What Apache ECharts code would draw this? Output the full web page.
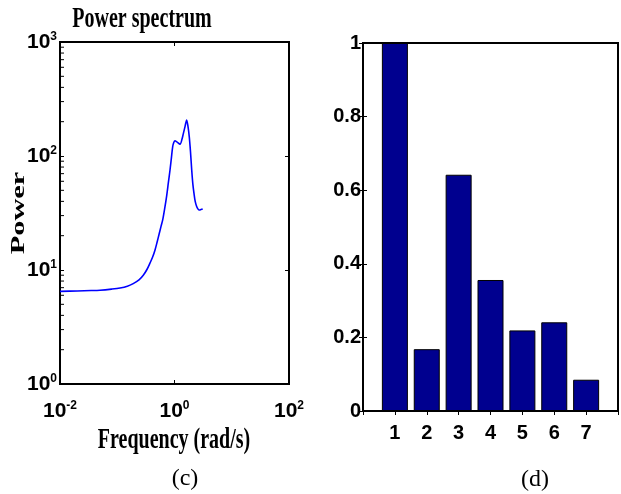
<!DOCTYPE html>
<html><head><meta charset="utf-8">
<script src="https://cdn.jsdelivr.net/npm/echarts@6/dist/echarts.min.js"></script>
<style>html,body{margin:0;padding:0;background:#fff}#c{width:621px;height:494px}</style>
</head><body><div id="c"></div>
<script>
// ---- data ----
const freq  = [0.01, 0.02, 0.035, 0.05, 0.08, 0.112, 0.15, 0.19, 0.24, 0.285, 0.33, 0.373, 0.415, 0.457, 0.5, 0.543, 0.58, 0.622, 0.67, 0.731, 0.78, 0.834, 0.88, 0.93, 0.975, 1.02, 1.1, 1.25, 1.35, 1.43, 1.53, 1.63, 1.72, 1.81, 1.9, 2.0, 2.09, 2.19, 2.3, 2.44, 2.58, 2.71, 2.9, 3.11];
const power = [6.5, 6.55, 6.6, 6.65, 6.8, 6.95, 7.2, 7.6, 8.2, 9.0, 10.1, 11.5, 13, 15, 17.8, 21, 24, 27.5, 34, 45, 58, 75, 95, 121, 132, 136, 133, 127, 140, 158, 182, 207, 182, 148, 110, 75, 57, 47, 40, 36, 34.2, 33.6, 33.9, 34.3];
const barCats = [1, 2, 3, 4, 5, 6, 7];
const barVals = [1.0, 0.168, 0.642, 0.356, 0.219, 0.241, 0.085];
const minorTickVals = [2,3,4,5,6,7,8,9,20,30,40,50,60,70,80,90,200,300,400,500,600,700,800,900];

const SANS = '"Liberation Sans",Arial,sans-serif';
const SERIF = '"Liberation Serif","Times New Roman",serif';
const supRich = {
  b: {fontFamily: SANS, fontWeight: 'bold', fontSize: 21, color: '#000', lineHeight: 22},
  s: {fontFamily: SANS, fontWeight: 'bold', fontSize: 12, color: '#000', verticalAlign: 'top', lineHeight: 22, padding: [0,0,12,0]}
};
function powLabel(v) {
  const e = Math.round(Math.log10(v));
  return '{b|10}{s|' + e + '}';
}
const tickStyle = {show: true, inside: true, length: 4, lineStyle: {color: '#000', width: 1}};
const axLine = {show: true, lineStyle: {color: '#000', width: 2}};

const chart = echarts.init(document.getElementById('c'), null, {renderer: 'canvas'});
chart.setOption({
  animation: false,
  backgroundColor: '#fff',
  grid: [
    {left: 60, top: 42, width: 229, height: 342, show: true, borderColor: '#000', borderWidth: 2, containLabel: false},
    {left: 363, top: 43, width: 256, height: 368, show: true, borderColor: '#000', borderWidth: 2, containLabel: false}
  ],
  xAxis: [
    {gridIndex: 0, type: 'log', logBase: 10, min: 0.01, max: 100, interval: 2, position: 'bottom',
     axisLine: axLine, axisTick: tickStyle, splitLine: {show: false},
     axisLabel: {formatter: powLabel, rich: supRich, margin: 16}},
    {gridIndex: 0, type: 'log', logBase: 10, min: 0.01, max: 100, interval: 2, position: 'top',
     axisLine: axLine, axisTick: tickStyle, splitLine: {show: false}, axisLabel: {show: false}},
    {gridIndex: 1, type: 'value', min: 0, max: 8, interval: 1, position: 'bottom',
     axisLine: axLine, axisTick: tickStyle, splitLine: {show: false},
     axisLabel: {margin: 12, fontFamily: SANS, fontWeight: 'bold', fontSize: 20, color: '#000',
       formatter: v => (v >= 1 && v <= 7) ? String(v) : ''}},
    {gridIndex: 1, type: 'value', min: 0, max: 8, interval: 1, position: 'top',
     axisLine: axLine, axisTick: tickStyle, splitLine: {show: false}, axisLabel: {show: false}}
  ],
  yAxis: [
    {gridIndex: 0, type: 'log', logBase: 10, min: 1, max: 1000, interval: 1, position: 'left',
     axisLine: axLine, axisTick: tickStyle, splitLine: {show: false},
     axisLabel: {formatter: powLabel, rich: supRich, margin: 3}},
    {gridIndex: 0, type: 'log', logBase: 10, min: 1, max: 1000, interval: 1, position: 'right',
     axisLine: axLine, axisTick: tickStyle, splitLine: {show: false}, axisLabel: {show: false}},
    {gridIndex: 1, type: 'value', min: 0, max: 1, interval: 0.2, position: 'left',
     axisLine: axLine, axisTick: tickStyle, splitLine: {show: false},
     axisLabel: {margin: 2, fontFamily: SANS, fontWeight: 'bold', fontSize: 20, color: '#000',
       formatter: v => String(Math.round(v * 10) / 10)}},
    {gridIndex: 1, type: 'value', min: 0, max: 1, interval: 0.2, position: 'right',
     axisLine: axLine, axisTick: tickStyle, splitLine: {show: false}, axisLabel: {show: false}}
  ],
  series: [
    {type: 'line', xAxisIndex: 0, yAxisIndex: 0, data: freq.map((f, i) => [f, power[i]]),
     showSymbol: false, smooth: 0.3, lineStyle: {color: '#0000ff', width: 1.6}},
    {type: 'custom', xAxisIndex: 0, yAxisIndex: 0, silent: true, clip: false,
     data: minorTickVals.map(v => [0.01, v]),
     renderItem: function (params, api) {
       const p = api.coord([api.value(0), api.value(1)]);
       return {type: 'line', shape: {x1: p[0], y1: p[1], x2: p[0] + 4, y2: p[1]},
               style: {stroke: '#000', lineWidth: 1}, z2: 10};
     }},
    {type: 'bar', xAxisIndex: 2, yAxisIndex: 2, data: barCats.map((c, i) => [c, barVals[i]]),
     barWidth: 26, itemStyle: {color: '#00008f', borderColor: '#000', borderWidth: 1}}
  ],
  graphic: [
    {type: 'text', x: 142, y: 19, scaleY: 1.5,
     style: {text: 'Power spectrum', font: 'bold 20px ' + SERIF, fill: '#000', align: 'center', verticalAlign: 'middle'}},
    {type: 'text', x: 174, y: 441, scaleY: 1.45,
     style: {text: 'Frequency (rad/s)', font: 'bold 20px ' + SERIF, fill: '#000', align: 'center', verticalAlign: 'middle'}},
    {type: 'text', x: 19, y: 213, rotation: Math.PI / 2, scaleX: 1.6,
     style: {text: 'Power', font: 'bold 19px ' + SERIF, fill: '#000', align: 'center', verticalAlign: 'middle'}},
    {type: 'text', x: 185, y: 479,
     style: {text: '(c)', font: '24px ' + SERIF, fill: '#000', align: 'center', verticalAlign: 'middle'}},
    {type: 'text', x: 535, y: 480,
     style: {text: '(d)', font: '24px ' + SERIF, fill: '#000', align: 'center', verticalAlign: 'middle'}}
  ]
});
</script>
</body></html>
